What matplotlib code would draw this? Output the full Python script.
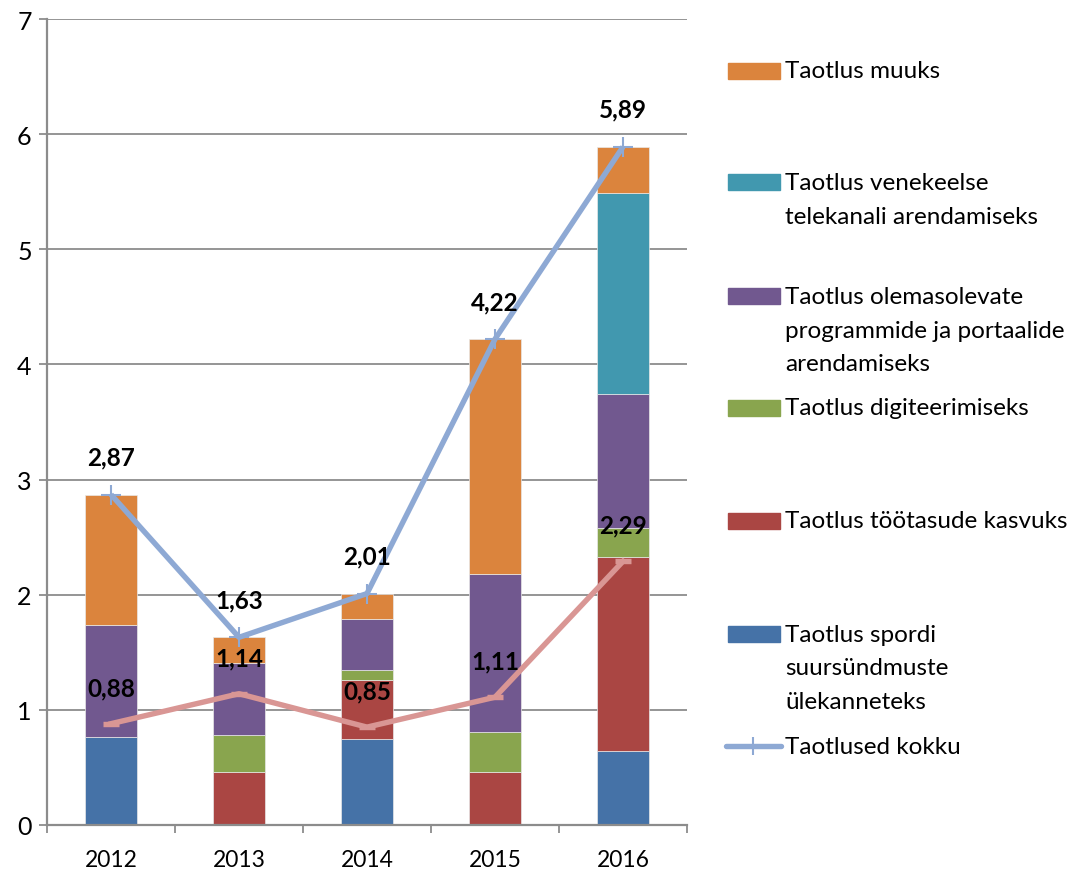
import numpy as np
import matplotlib
matplotlib.use("Agg")
import matplotlib.pyplot as plt
from matplotlib.patches import Rectangle
from matplotlib.lines import Line2D

plt.rcParams['font.family'] = ['Lato', 'DejaVu Sans']

# data
years = ['2012', '2013', '2014', '2015', '2016']
sport = [0.76, 0.00, 0.75, 0.00, 0.64]
tootasud = [0.00, 0.46, 0.51, 0.46, 1.69]
digi = [0.00, 0.32, 0.09, 0.35, 0.25]
olemas = [0.98, 0.63, 0.44, 1.37, 1.16]
vene = [0.00, 0.00, 0.00, 0.00, 1.75]
muuks = [1.13, 0.22, 0.22, 2.04, 0.40]
kokku = [2.87, 1.63, 2.01, 4.22, 5.89]
teine = [0.88, 1.14, 0.85, 1.11, 2.29]

series = [
    (sport, '#4572A7', ['Taotlus spordi', 'suursündmuste', 'ülekanneteks']),
    (tootasud, '#AA4643', ['Taotlus töötasude kasvuks']),
    (digi, '#89A54E', ['Taotlus digiteerimiseks']),
    (olemas, '#71588F', ['Taotlus olemasolevate', 'programmide ja portaalide', 'arendamiseks']),
    (vene, '#4198AF', ['Taotlus venekeelse', 'telekanali arendamiseks']),
    (muuks, '#DB843D', ['Taotlus muuks']),
]

W, H = 1076, 870
fig = plt.figure(figsize=(W / 100, H / 100), dpi=100)
ax = fig.add_axes([47 / W, 44 / H, 640 / W, 806 / H])

x = np.arange(len(years))
bottom = np.zeros(len(years))
for vals, col, _ in series:
    ax.bar(x, vals, 0.4, bottom=bottom, color=col, edgecolor='#e8e8e8',
           linewidth=0.5, zorder=2)
    bottom += np.array(vals)

ax.plot(x, kokku, color='#8EA9D4', lw=3.9, marker='+', ms=14, mew=1.5,
        zorder=4, solid_capstyle='butt')
ax.plot(x, teine, color='#D99694', lw=3.9, marker='_', ms=12, mew=3.9,
        zorder=4)

fmt = lambda v: f"{v:.2f}".replace('.', ',')
for xi, v in zip(x, kokku):
    ax.annotate(fmt(v), (xi, v), xytext=(0, 27), textcoords='offset points',
                ha='center', va='center', fontsize=17.5, fontweight='bold', zorder=5)
for xi, v in zip(x, teine):
    ax.annotate(fmt(v), (xi, v), xytext=(0, 26), textcoords='offset points',
                ha='center', va='center', fontsize=17.5, fontweight='bold', zorder=5)

ax.set_xlim(-0.5, 4.5)
ax.set_ylim(0, 7)
ax.set_yticks(range(8))
ax.yaxis.grid(True, color='#8c8c8c', lw=1.3, zorder=0)
ax.set_axisbelow(True)
ax.tick_params(axis='y', length=6, width=1.3, color='#8c8c8c', labelsize=18, pad=5)
ax.set_xticks(x)
ax.set_xticklabels(years)
ax.set_xticks(np.arange(-0.5, 5, 1), minor=True)
ax.tick_params(axis='x', which='major', length=0, labelsize=16.5, pad=17)
ax.tick_params(axis='x', which='minor', length=6, width=1.3, color='#8c8c8c')
for s in ['top', 'right']:
    ax.spines[s].set_visible(False)
for s in ['left', 'bottom']:
    ax.spines[s].set_color('#8c8c8c')
    ax.spines[s].set_linewidth(1.6)

# legend, laid out like the original (equal slots, swatch at first line)
slot_y = [72, 183, 297, 409, 522, 635, 747]
line_gap = 34
fs = 17.5
for (vals, col, lines), y0 in zip(series[::-1], slot_y):
    fig.add_artist(Rectangle((728 / W, 1 - (y0 + 8) / H), 52 / W, 16 / H,
                             color=col, transform=fig.transFigure))
    for i, t in enumerate(lines):
        fig.text(785 / W, 1 - (y0 + i * line_gap) / H, t, fontsize=fs,
                 va='center')
y0 = slot_y[-1]
fig.add_artist(Line2D([726 / W, 781 / W], [1 - y0 / H] * 2, color='#8EA9D4',
                      lw=3.9, transform=fig.transFigure, solid_capstyle='round'))
fig.add_artist(Line2D([753 / W], [1 - y0 / H], color='#8EA9D4', marker='|',
                      ms=13, mew=1.5, transform=fig.transFigure))
fig.text(785 / W, 1 - y0 / H, 'Taotlused kokku', fontsize=fs, va='center')

fig.savefig('out.png', dpi=100)
